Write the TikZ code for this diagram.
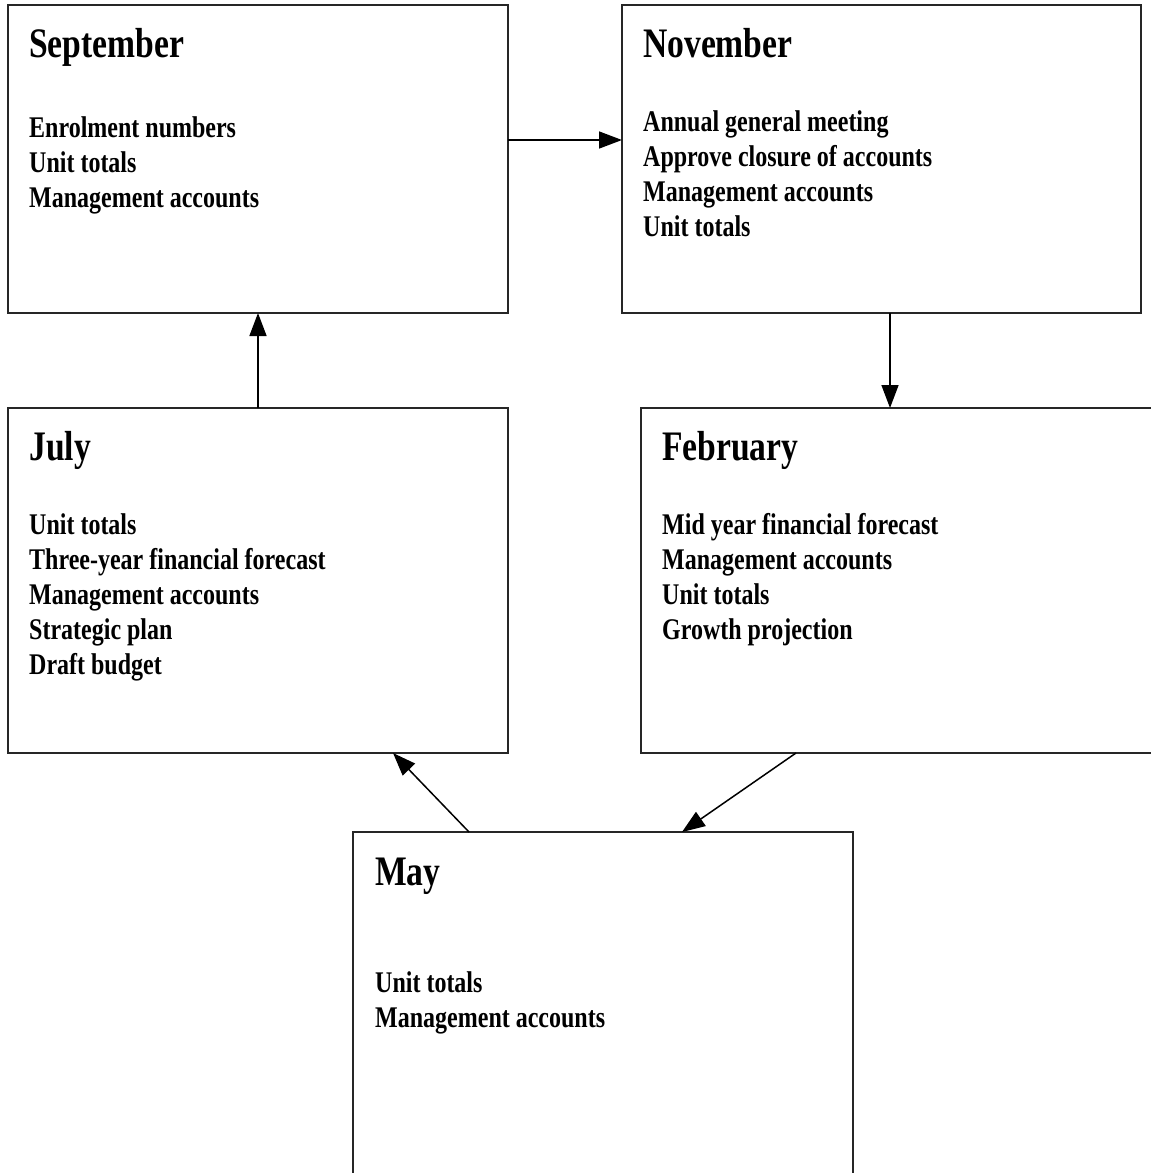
\documentclass[tikz,border=0pt]{standalone}
\usepackage{fontspec}
\usetikzlibrary{arrows.meta}
\newfontfamily\boxfont{Liberation Serif}[FakeStretch=0.8]

\tikzset{
  monthbox/.style={draw=black!85, line width=1.8pt, fill=none, inner sep=0pt,
    outer sep=0pt, anchor=north west},
  monthtitle/.style={anchor=base west, inner sep=0pt,
    font=\boxfont\bfseries\fontsize{42}{46}\selectfont},
  monthitems/.style={anchor=base west, inner sep=0pt,
    font=\boxfont\bfseries\fontsize{30}{35}\selectfont},
  flow/.style={line width=1.5pt, -{Triangle[length=23pt,width=17pt]}}
}

\newcommand{\itemlist}[1]{\begin{tabular}[t]{@{}l@{}}#1\end{tabular}}

\begin{document}
\begin{tikzpicture}[x=1pt, y=-1pt]
  \useasboundingbox (0,0) rectangle (1151,1173);

  % Boxes
  \node[monthbox, minimum width=500pt, minimum height=308pt] (sep) at (8,5) {};
  \node[monthbox, minimum width=519pt, minimum height=308pt] (nov) at (622,5) {};
  \node[monthbox, minimum width=500pt, minimum height=345pt] (jul) at (8,408) {};
  \node[monthbox, minimum width=520pt, minimum height=345pt] (feb) at (641,408) {};
  \node[monthbox, minimum width=500pt, minimum height=360pt] (may) at (353,832) {};

  % September
  \node[monthtitle] (septitle) at (29,57) {September};
  \node[monthitems] (sepitems) at (29,137)
    {\itemlist{Enrolment numbers\\ Unit totals\\ Management accounts}};

  % November
  \node[monthtitle] (novtitle) at (643,57) {November};
  \node[monthitems] (novitems) at (643,131)
    {\itemlist{Annual general meeting\\ Approve closure of accounts\\
      Management accounts\\ Unit totals}};

  % July
  \node[monthtitle] (jultitle) at (29,460) {July};
  \node[monthitems] (julitems) at (29,534)
    {\itemlist{Unit totals\\ Three-year financial forecast\\ Management accounts\\
      Strategic plan\\ Draft budget}};

  % February
  \node[monthtitle] (febtitle) at (662,460) {February};
  \node[monthitems] (febitems) at (662,534)
    {\itemlist{Mid year financial forecast\\ Management accounts\\ Unit totals\\
      Growth projection}};

  % May
  \node[monthtitle] (maytitle) at (375,885) {May};
  \node[monthitems] (mayitems) at (375,992)
    {\itemlist{Unit totals\\ Management accounts}};

  % Cycle of reporting
  \draw[flow] ([yshift=19pt]sep.east) -- ([yshift=19pt]nov.west);
  \draw[flow] ([xshift=8.5pt]nov.south) -- ([xshift=-11pt]feb.north);
  \draw[flow] ([xshift=-105pt]feb.south) -- ([xshift=79pt]may.north);
  \draw[flow] ([xshift=-134pt]may.north) -- ([xshift=135pt]jul.south);
  \draw[flow] (jul.north) -- (sep.south);
\end{tikzpicture}
\end{document}
